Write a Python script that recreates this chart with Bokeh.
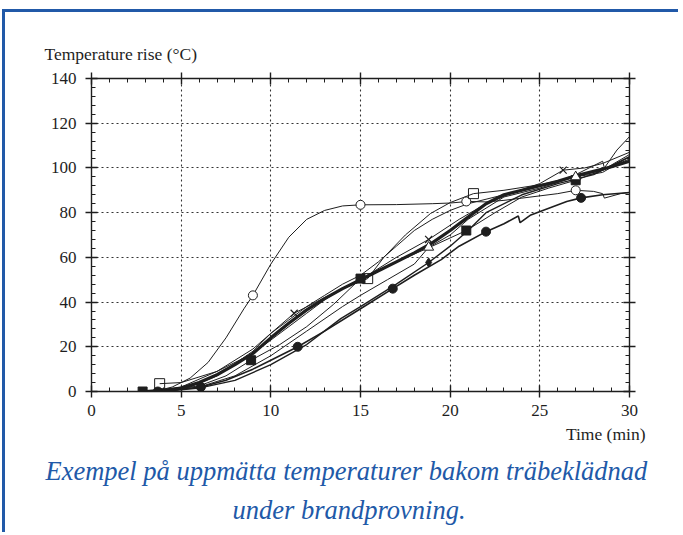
from bokeh.plotting import figure
from bokeh.models import LinearAxis, SingleIntervalTicker, Title
from bokeh.embed import file_html
from bokeh.resources import INLINE

# ---- data ----
open_circle_x = [3.5, 4.5, 5.5, 6.5, 7.5, 8.5, 9.0, 10.0, 11.0, 12.0, 13.0, 14.0, 15.0, 17.0, 19.0, 20.0, 21.0, 22.0, 23.0, 24.0, 25.0, 26.0, 27.0, 28.0, 28.5, 28.6, 29.5, 30.0]
open_circle_y = [0, 2, 6, 13, 24, 37, 43, 57, 69, 77, 81, 83, 83.5, 83.6, 84, 84.3, 85, 84.8, 85.5, 86.5, 87.5, 88.5, 90, 89.5, 88.5, 86.5, 88.5, 89]
open_circle_mx = [9.0, 15.0, 20.9, 27.0]
open_circle_my = [43, 83.5, 85, 90]

filled_circle_x = [3.7, 5.0, 6.1, 7.5, 9.0, 10.0, 11.5, 13.0, 15.0, 16.8, 18.0, 19.5, 20.5, 22.0, 23.0, 23.8, 23.9, 24.5, 25.5, 26.5, 27.3, 28.5, 30.0]
filled_circle_y = [0, 1, 2, 5, 10, 14, 20, 27, 37, 46, 52, 59, 65, 71.5, 75, 78.5, 75.5, 79, 82, 85, 86.6, 88, 89]
filled_circle_mx = [3.7, 6.1, 11.5, 16.8, 22.0, 27.3]
filled_circle_my = [0, 2, 20, 46, 71.5, 86.6]

thick_x = [3, 4, 5, 6, 7, 8, 9, 10, 11, 12, 13, 14, 15, 16, 17, 18, 19, 20, 21, 22, 23, 24, 25, 26, 27, 28, 29, 30]
thick_y = [0, 0.5, 1.5, 4, 7.5, 12, 17, 24, 30.5, 36.5, 41.5, 46, 50, 54, 58, 62, 66.5, 72, 78, 84, 88, 90, 92, 94, 96.5, 98.5, 100.5, 103]

filled_square_x = [2.85, 4.0, 6.0, 7.5, 8.9, 10.5, 12.0, 13.5, 15.0, 17.0, 19.0, 20.9, 22.5, 24.0, 25.5, 27.0, 28.5, 30.0]
filled_square_y = [0, 0.5, 2.5, 7, 14, 21, 29, 39, 50.5, 58, 65, 72, 80, 87, 91, 94.5, 99, 104]
filled_square_mx = [2.85, 8.9, 15.0, 20.9, 27.0]
filled_square_my = [0, 14, 50.5, 72, 94.5]

cross_x = [3.8, 5.5, 7.0, 9.0, 10.0, 11.3, 13.0, 15.0, 17.0, 18.8, 20.5, 22.0, 23.5, 25.0, 26.3, 27.5, 28.5, 30.0]
cross_y = [0, 2, 7, 18, 26, 35, 42, 50, 60, 68, 77, 84, 89, 93, 99, 100, 102, 107]
cross_mx = [11.3, 18.8, 26.3]
cross_my = [35, 68, 99]

triangle_x = [4.0, 6.0, 8.0, 10.0, 12.0, 14.0, 15.0, 16.5, 18.0, 18.8, 20.0, 21.0, 22.0, 23.0, 25.0, 27.0, 28.5, 30.0]
triangle_y = [0, 2, 7, 16, 27, 38, 43, 50, 57, 64.5, 70, 77, 82, 87, 91, 96, 98, 105]
triangle_mx = [18.8, 27.0]
triangle_my = [64.5, 96]

diamond_x = [4.0, 6.0, 8.0, 10.0, 12.0, 13.9, 15.0, 17.0, 18.8, 20.0, 21.0, 22.0, 24.0, 26.0, 28.0, 30.0]
diamond_y = [0, 1.5, 5, 12, 21, 32.6, 38, 48, 57.7, 65, 72, 80, 88, 93, 97, 105]
diamond_mx = [18.8]
diamond_my = [57.7]

open_square_x = [3.8, 5.0, 7.0, 9.0, 10.0, 11.0, 12.0, 13.0, 14.0, 15.4, 16.3, 17.5, 18.9, 20.0, 21.3, 23.0, 25.0, 27.0, 28.5, 30.0]
open_square_y = [3.5, 4, 9, 17, 23, 29, 35, 41, 46, 50.5, 60, 70, 79.6, 84.5, 88.5, 90, 92.5, 96, 99, 106]
open_square_mx = [3.8, 15.4, 21.3]
open_square_my = [3.5, 50.5, 88.5]

top_x = [3.5, 5, 7, 9, 10, 11, 12, 13, 14, 15, 16, 17, 18, 19, 20, 21, 22, 23, 24, 25, 26, 27, 28, 28.5, 28.6, 29.3, 30]
top_y = [0, 2, 9, 19, 26, 32, 38, 43, 48, 52, 58, 65, 72, 77, 81, 84, 86, 88, 90, 92, 94, 97, 101, 103, 100, 108, 114]

x_ticks = [0, 5, 10, 15, 20, 25, 30]
y_ticks = [0, 20, 40, 60, 80, 100, 120, 140]

y_title = "Temperature rise (°C)"
x_title = "Time (min)"
caption_1 = "Exempel på uppmätta temperaturer bakom träbeklädnad"
caption_2 = "under brandprovning."

# ---- styling ----
INK = "#1e1e1e"
SERIF = "Liberation Serif"
BLUE = "#2159a8"

W, H = 676, 523
p = figure(width=W, height=H, x_range=(0, 30), y_range=(0, 140),
           output_backend="svg", toolbar_location=None,
           min_border_left=86, min_border_top=66, min_border_right=52, min_border_bottom=144,
           background_fill_color="white", border_fill_color="white",
           outline_line_color=None)
p.styles = {"border-top": "3px solid " + BLUE, "border-left": "3px solid " + BLUE,
            "margin-top": "9px", "margin-left": "2px"}

def style_axis(ax, labels=True):
    ax.axis_line_color = INK
    ax.axis_line_width = 1.4
    ax.major_tick_line_color = INK
    ax.major_tick_line_width = 1.4
    ax.minor_tick_line_color = INK
    ax.major_tick_in = 6
    ax.major_tick_out = 6
    ax.minor_tick_in = 4
    ax.minor_tick_out = 0
    if labels:
        ax.major_label_text_font = SERIF
        ax.major_label_text_font_size = "17px"
        ax.major_label_text_color = INK
        ax.major_label_standoff = 7
    else:
        ax.major_label_text_font_size = "2px"
        ax.major_label_text_color = None
        ax.major_label_text_alpha = 0
        ax.major_label_standoff = 0

xt = SingleIntervalTicker(interval=5, num_minor_ticks=5)
yt = SingleIntervalTicker(interval=20, num_minor_ticks=5)
p.xaxis.ticker = xt
p.yaxis.ticker = yt
style_axis(p.xaxis[0])
style_axis(p.yaxis[0])
p.yaxis[0].major_label_standoff = 9
p.xaxis[0].major_label_overrides = {v: str(v) for v in x_ticks}
p.yaxis[0].major_label_overrides = {v: str(v) for v in y_ticks}

ax_top = LinearAxis(ticker=SingleIntervalTicker(interval=5, num_minor_ticks=5))
ax_right = LinearAxis(ticker=SingleIntervalTicker(interval=20, num_minor_ticks=5))
style_axis(ax_top, labels=False)
style_axis(ax_right, labels=False)
p.add_layout(ax_top, "above")
p.add_layout(ax_right, "right")

for g in (p.xgrid[0], p.ygrid[0]):
    g.grid_line_color = "#333333"
    g.grid_line_dash = "2 3"
    g.grid_line_width = 1.1
p.xgrid[0].ticker = xt
p.ygrid[0].ticker = yt

# ---- lines ----
thin = dict(line_color=INK, line_width=1.0)
p.line(open_circle_x, open_circle_y, **thin)
p.line(filled_circle_x, filled_circle_y, line_color=INK, line_width=1.6)
p.line(filled_square_x, filled_square_y, **thin)
p.line(cross_x, cross_y, **thin)
p.line(triangle_x, triangle_y, **thin)
p.line(diamond_x, diamond_y, line_color=INK, line_width=1.4)
p.line(open_square_x, open_square_y, **thin)
p.line(top_x, top_y, **thin)
p.line(thick_x, thick_y, line_color=INK, line_width=3.2)

# ---- markers ----
p.scatter(open_circle_mx, open_circle_my, marker="circle", size=9, fill_color="white", line_color=INK, line_width=1)
p.scatter(filled_circle_mx, filled_circle_my, marker="circle", size=9, fill_color=INK, line_color=INK)
p.scatter(filled_square_mx, filled_square_my, marker="square", size=9, fill_color=INK, line_color=INK)
p.scatter(cross_mx, cross_my, marker="x", size=10, line_color=INK, line_width=1.2)
p.scatter(triangle_mx, triangle_my, marker="triangle", size=10, fill_color="white", line_color=INK, line_width=1)
p.scatter(diamond_mx, diamond_my, marker="diamond", size=9, fill_color=INK, line_color=INK)
p.scatter(open_square_mx, open_square_my, marker="square", size=10, fill_color="white", fill_alpha=0.0, line_color=INK, line_width=1)

# ---- texts (titles in the side panels) ----
t_y = Title(text=y_title, align="left", offset=-47, standoff=17,
            text_font=SERIF, text_font_size="17.5px", text_font_style="normal", text_color=INK)
p.add_layout(t_y, "above")

t_x = Title(text=x_title, align="right", offset=-16, standoff=7,
            text_font=SERIF, text_font_size="17.5px", text_font_style="normal", text_color=INK)
p.add_layout(t_x, "below")

c1 = Title(text=caption_1, align="left", offset=-46, standoff=13,
           text_font=SERIF, text_font_size="26.5px", text_font_style="italic", text_color=BLUE)
p.add_layout(c1, "below")
c2 = Title(text=caption_2, align="left", offset=141, standoff=0,
           text_font=SERIF, text_font_size="26.5px", text_font_style="italic", text_color=BLUE)
p.add_layout(c2, "below")

open("out.html", "w").write(file_html(p, INLINE))
